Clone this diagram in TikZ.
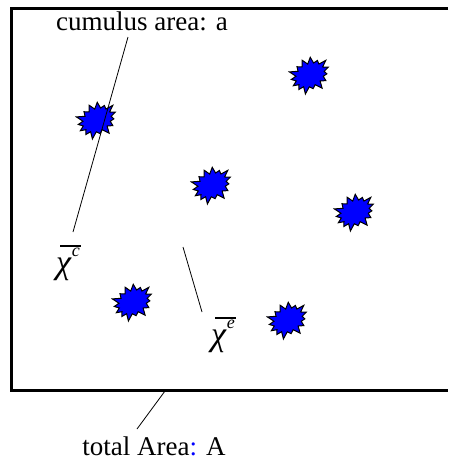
\documentclass[tikz,border=0pt]{standalone}
\usepackage{fontspec}
\setmainfont{Liberation Serif}
\usetikzlibrary{shapes.symbols}

\newcommand{\chibar}[1]{%
    \makebox[0pt][l]{\hspace{0.12em}\raisebox{0.78em}{\rule{0.62em}{0.05em}}}%
    \textit{χ}\raisebox{0.5em}{\fontsize{18}{19}\selectfont\itshape #1}}

\begin{document}
\begin{tikzpicture}[x=1pt, y=-1pt,
    cloud/.style={starburst, starburst points=15, starburst point height=8pt,
        fill=blue, draw=black, line width=1pt, minimum width=46pt,
        minimum height=38pt, inner sep=0pt, rotate=28},
    lbl/.style={font=\fontsize{27}{29}\selectfont, inner sep=0pt},
    sym/.style={font=\fontsize{34}{36}\selectfont, inner sep=0pt}]
    \useasboundingbox (0,0) rectangle (448,463);
    \pgfmathsetseed{7}

    % 1. Total area frame (open on the right)
    \draw[line width=3pt] (448,8) -- (11,8) -- (11,390) -- (448,390);

    % 2. Cumulus clouds
    \foreach \n/\x/\y in {c1/97/120, c2/310/75, c3/212/185,
                          c4/355/212, c5/133/302, c6/288/320} {
        \node[cloud] (\n) at (\x,\y) {};
    }

    % 3. Labels
    \node[lbl] (cum) at (142,21) {cumulus area: a};
    \node[sym] (chic) at (68,263) {\chibar{c}};
    \node[sym] (chie) at (223,335) {\chibar{e}};
    \node[lbl] (tot) at (154,446) {total Area\textcolor{blue}{:} A};

    % 4. Leader lines
    \coordinate (cumfoot) at (128,37);
    \coordinate (chictop) at (73,232);
    \coordinate (chietop) at (183,247);
    \coordinate (chiefoot) at (202,312);
    \coordinate (edge) at (165,391);
    \coordinate (totop) at (137,429);
    \draw[line width=0.8pt] (cumfoot) -- (chictop);
    \draw[line width=0.8pt] (chietop) -- (chiefoot);
    \draw[line width=0.8pt] (edge) -- (totop);
\end{tikzpicture}
\end{document}
